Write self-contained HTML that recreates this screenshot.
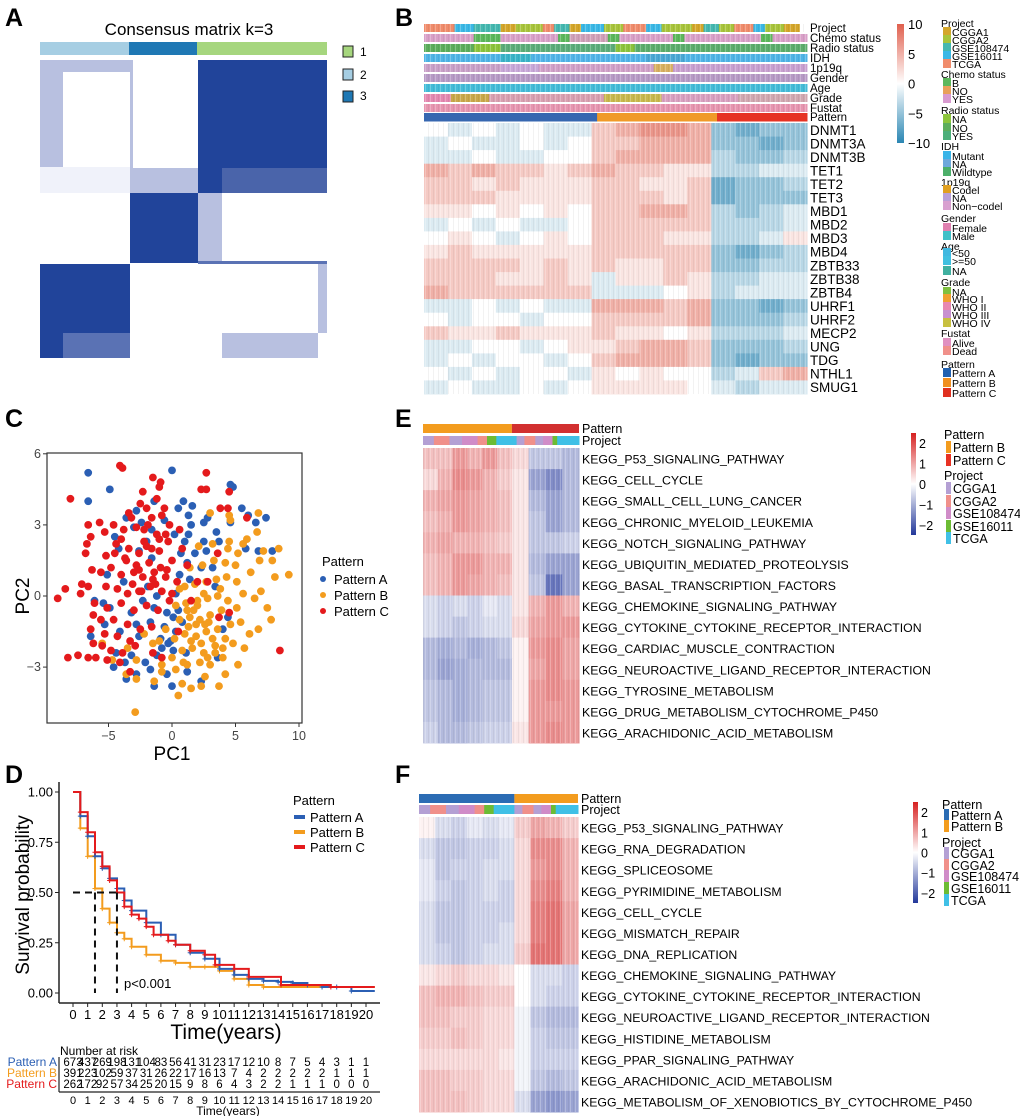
<!DOCTYPE html>
<html><head><meta charset="utf-8"><style>
html,body{margin:0;padding:0;background:#fff;}
svg{display:block;font-family:"Liberation Sans",sans-serif;}
</style></head><body>
<svg id="fig" width="1020" height="1116" viewBox="0 0 1020 1116" xmlns="http://www.w3.org/2000/svg">
<defs>
<pattern id="stripes" width="5" height="10" patternUnits="userSpaceOnUse"><rect x="0" y="0" width="1" height="10" fill="#fff" opacity="0.25"/><rect x="3" y="0" width="1" height="10" fill="#000" opacity="0.05"/></pattern>
<linearGradient id="gradB" x1="0" y1="0" x2="0" y2="1"><stop offset="0" stop-color="#e0604e"/><stop offset="0.5" stop-color="#ffffff"/><stop offset="1" stop-color="#2a86b3"/></linearGradient>
<linearGradient id="gradE" x1="0" y1="0" x2="0" y2="1"><stop offset="0" stop-color="#d62020"/><stop offset="0.5" stop-color="#ffffff"/><stop offset="1" stop-color="#23389a"/></linearGradient>
</defs>
<g font-weight="bold" font-size="25">
<text x="5" y="26">A</text>
<text x="395" y="26">B</text>
<text x="5" y="427">C</text>
<text x="395" y="427">E</text>
<text x="5" y="783">D</text>
<text x="395" y="783">F</text>
</g>
<!-- Panel A -->
<g id="pa">
<text x="189" y="35" font-size="17" text-anchor="middle">Consensus matrix k=3</text>
<rect x="40" y="42" width="89" height="13" fill="#a6cee3"/>
<rect x="129" y="42" width="68" height="13" fill="#1f78b4"/>
<rect x="197" y="42" width="130" height="13" fill="#a6d67e"/>
<rect x="343" y="46" width="10" height="11" fill="#a6d67e" stroke="#222"/>
<text x="360" y="56" font-size="12">1</text>
<rect x="343" y="69" width="10" height="11" fill="#a6cee3" stroke="#222"/>
<text x="360" y="79" font-size="12">2</text>
<rect x="343" y="91" width="10" height="11" fill="#1f78b4" stroke="#222"/>
<text x="360" y="100" font-size="12">3</text>
<g fill="#b8c0e0">
<rect x="40" y="60" width="23" height="107"/><rect x="63" y="60" width="67" height="12"/>
<rect x="130" y="168" width="68" height="25"/><rect x="198" y="193" width="24" height="68"/>
<rect x="222" y="333" width="96" height="25"/><rect x="318" y="264" width="9" height="69"/>
<rect x="130" y="60" width="3" height="133"/><rect x="40" y="167" width="90" height="26" fill="#f0f2fa"/>
</g>
<g fill="#21449a">
<rect x="198" y="60" width="129" height="108"/><rect x="198" y="168" width="24" height="25"/>
<rect x="222" y="168" width="105" height="25" fill="#4a64aa"/>
<rect x="130" y="193" width="68" height="70"/>
<rect x="40" y="264" width="90" height="69"/><rect x="40" y="333" width="23" height="25"/>
<rect x="63" y="333" width="67" height="25" fill="#5a72b4"/>
<rect x="198" y="261" width="129" height="3" fill="#5a72b4"/>
</g>
</g>
<g id="pb"></g>
<g id="pc"></g>
<g id="pd"></g>
<g id="pe"></g>
<g id="pf"></g>
</svg>
<script>
// ===== Panel B data =====
const geneNames = ["DNMT1","DNMT3A","DNMT3B","TET1","TET2","TET3","MBD1","MBD2","MBD3","MBD4","ZBTB33","ZBTB38","ZBTB4","UHRF1","UHRF2","MECP2","UNG","TDG","NTHL1","SMUG1"];
const geneValues = [
[0,-1,0,-1,0,-1,-1,2,3,4,4,3,-3,-4,-3,-3],
[-1,0,-1,-1,0,-1,0,2,2,3,3,3,-3,-3,-4,-3],
[-1,-1,0,-1,-1,0,0,2,3,3,3,3,-2,-3,-3,-2],
[3,2,3,2,2,1,2,3,2,2,1,1,-2,-2,-1,-1],
[2,2,1,2,1,1,1,2,2,1,1,2,-4,-3,-3,-2],
[2,2,2,1,1,1,1,2,2,2,1,2,-4,-3,-3,-3],
[1,1,0,1,0,1,0,2,2,3,3,2,-2,-3,-2,-1],
[-1,0,-1,0,-1,-1,0,2,2,2,2,2,-2,-2,-2,-1],
[0,1,0,-1,0,1,0,2,2,2,1,1,-2,-2,-1,1],
[1,2,1,1,1,1,1,2,2,2,2,2,-3,-4,-3,-2],
[2,2,2,2,1,2,1,2,1,1,2,2,-3,-3,-2,-2],
[2,2,2,1,1,2,1,-1,1,1,2,1,-2,-2,-1,-1],
[3,2,2,2,2,2,2,-1,-1,-1,0,1,-2,-1,-1,-1],
[-1,-1,0,-1,0,-1,-1,3,3,3,2,3,-3,-3,-4,-3],
[0,-1,0,0,-1,0,0,2,2,2,2,3,-3,-3,-3,-2],
[2,1,1,2,1,1,1,2,1,1,0,1,-2,-2,-2,-1],
[-1,-1,0,0,-1,0,1,1,2,3,3,2,-3,-3,-3,-2],
[-1,0,-1,0,0,-1,0,2,3,3,3,2,-3,-4,-3,-3],
[0,-1,0,-1,0,0,-1,1,0,1,0,0,-2,-1,2,3],
[-1,0,-1,-1,0,-1,0,1,1,1,1,0,-1,-2,-1,-1]];
const geneColTicks = ["10","5","0","\u22125","\u221210"];
const geneColTickVals = [10,5,0,-5,-10];
// ===== Panel C data =====
const redX=[-4.1,-3.9,-1.5,-0.9,-1,2.7,2.3,2.7,4.5,-8,-2.3,-2.5,-3.4,-2,-1.2,-0.6,-5.7,-6.6,-4.6,-3.2,-2.8,-1.6,-0.8,-0.2,0.6,3.8,4.4,5.9,-6.4,-6.7,-5.3,-4,-3.4,-2.2,-1.2,-0.3,0.8,-6.8,-5.2,-4.5,-3.6,-2.6,-1.8,-1,0,1.2,3.6,-6.3,-5.6,-4.8,-4,-3,-2.3,-1.4,-0.5,0.4,2,2.8,-7.1,-6.6,-5.2,-4.3,-3.5,-2.6,-1.7,-0.8,0,-8.4,-9,-7.2,-6.1,-5.1,-4,-3,-2,-1.1,1.5,-6.2,-5.6,-4.6,-3.5,-2.5,-1.6,-6.4,-5.3,-4.3,-3.3,-6.2,-5.5,-4.8,-3.9,-2.9,-1.5,-6,-5.1,-4.1,-8.2,-7.4,-6.6,-3.3,-0.8,8.5,4.5,3.7,0.5,-2.2,-1.6,-0.9,-1.3,-0.2,-2.8,-3.8,-4.4,-1.9,-0.5,-2.6,-1.5,-0.4,-3.1,-2,-1,-3.7,-2.4];
const redY=[5.5,5.4,5,4.8,4.6,5.2,4.5,4.5,4.4,4.1,4.4,3.9,3.5,3.7,4.1,3.7,3.1,3,3,3.3,2.9,3.3,3.4,3,2.8,3.7,3.7,3.3,2.5,2.2,2.7,2.4,2,2.3,2.6,2.3,2,1.8,1.7,1.8,1.5,1.8,1.4,1.9,1.5,1.3,1.8,1.1,1,1.2,0.9,1,0.8,1,0.8,0.6,0.6,0.6,0.5,0.4,0.4,0.3,0.1,0.2,0.4,0.2,0.1,0.3,-0.1,0.1,-0.3,-0.5,-0.3,-0.6,-0.4,-0.6,-0.2,-0.8,-1,-1,-1.2,-1.4,-1.3,-1.4,-1.6,-1.7,-1.9,-2,-2.1,-2.3,-2.4,-2.1,-2.4,-2.6,-2.7,-2.8,-2.6,-2.5,-2.6,-3.2,-2.6,-2.3,-0.7,-0.9,-1.5,2.8,2,1.2,0.5,-0.2,1.3,2.8,2.2,3,2.6,1.1,0.7,1.1,0.5,2.1,2.4,1.6,0.2];
const orangeX=[-2.9,9.2,8.4,7.9,7.8,8.1,7.2,6.9,6.8,6.7,5.9,5.6,4.6,4.5,4.4,5.2,6.2,7,6.5,7.5,6.8,6.1,5.4,5.7,5.2,4.2,3.7,2.3,1.5,0.8,-1.4,-2.8,-3.6,0.3,1.2,2.2,3,4,4.8,0,0.8,1.6,2.5,3.4,4.2,0.2,1,1.9,2.7,3.6,4.6,-0.5,0.6,1.4,2.2,3,3.9,5.1,0.3,1.1,2,2.8,3.6,4.4,5.6,1,1.8,2.7,3.5,4.3,5.1,1.4,2.4,3.3,4.2,5,-3.5,-2.8,-1.5,-2.2,-0.8,2.6,0.5,-0.8,3,4.5,1.9,2.3,1.3,2.8,3.2,1.7,2.5,3.8,0.6,-1,-5.5,-4.7,3.2,2.1,1.5,2.9,3.4,2,1.2,2.6,4,0.9];
const orangeY=[-4.9,0.9,2,1.5,-1,0.8,1.9,1.5,3.5,2.7,2.4,2.2,3.2,2.3,2,1.8,1,0.2,-0.1,-0.5,-1.4,-1.6,-1.1,-2.2,-2.9,-3.3,-3.8,-3.8,-3.9,-3.7,-3.6,-3.5,-3.3,-3.1,-2.9,-2.8,-2.9,-2.6,-2,-2.6,-2.3,-2.2,-2.4,-2.1,-1.8,-1.8,-1.6,-1.7,-1.5,-1.4,-1.2,-1.4,-1,-0.9,-1,-0.8,-0.6,-0.5,-0.4,-0.3,-0.2,-0.1,0,-0.2,0.1,0.4,0.5,0.6,0.7,0.8,0.6,1.2,1.3,1.5,1.4,1.3,-2.2,-2.7,-2,-1.6,-2.9,-3.4,-4.2,-3.2,3.5,3.4,-1.2,-2,-1.3,-2.6,-1.8,-0.6,0.1,0.3,0.3,-1.9,-2,-2.7,2.2,2.1,-1.9,-1.1,-2.4,-0.4,-0.6,-1.2,-2.2,-2.8];
const blueX=[-6.6,-6.6,-4.9,0,4.6,4.8,-2.8,-1.4,0.9,1.6,0.5,1.3,2.8,5.5,6,7.4,6.6,4.6,-3.6,-2.4,-0.6,1.5,2.5,-3,-1.6,0.2,1.3,3.5,-4.5,-2,1,2.5,3.7,5.8,6.8,7.9,-4.2,-2.6,0.7,1.8,2.7,-1.6,1.2,2.3,3.2,-5.1,-3.8,-1.9,0.6,1.4,0.3,-6.1,-4.9,-3.2,-1.4,-0.4,0.1,-5.3,-4.1,-2.6,-1.7,-0.6,-0.9,-6.4,-4.4,-3.2,-2.1,-1.2,0.1,-4.6,-3.7,-2.8,-1.7,-0.4,1.2,-3.6,-1.4,0,2.3,3.6,4,4.4,3.4,-0.3,0.3,-2.3,-5.4,-2.8,-1.2,0.8,-0.1,0.5,-0.8,1.1];
const blueY=[5.2,4,4.5,5.3,4.7,4.6,3.6,4,4,3.8,3.7,3.4,3.3,3.7,3.4,3.3,3.1,3.1,3.3,3.1,3.2,3,3.1,2.9,2.8,2.6,2.6,2.7,2.5,2.3,2.3,2.3,2.3,2,1.9,1.9,2,1.9,1.8,1.8,1.9,1.6,1.4,1.2,1.2,0.9,0.6,0.4,0.9,0.7,0.1,-0.2,-0.5,-0.7,-0.5,-0.7,-0.9,-1.2,-1.5,-1.7,-1.1,-1.3,-1.8,-1.7,-2.4,-2.5,-2.8,-2.5,-2.3,-3,-2.8,-3.3,-3.1,-3.3,-3.2,-3.5,-3.8,-3.8,-3.6,-2.6,-1.4,-0.9,0.4,-2,-1.5,-0.2,-0.3,-1.2,0,-1.1,-1.9,-0.6,-2.2,-2.4];
const pcXTicks=[-5,0,5,10];
const pcYTicks=[6,3,0,-3];
// ===== Panel D data =====
const kmA_t=[0,0.5,1,1.5,2,2.5,3,3.5,4,5,6,7,8,9,10,11,12,13,14,15,16,17,18,19,20.6];
const kmA_s=[1,0.88,0.78,0.68,0.62,0.57,0.52,0.46,0.41,0.35,0.29,0.24,0.2,0.17,0.12,0.09,0.07,0.06,0.055,0.05,0.04,0.03,0.03,0.01,0.01];
const kmB_t=[0,0.5,1,1.5,2,2.5,3,3.5,4,5,6,7,8,9,10,11,12,13,20.6];
const kmB_s=[1,0.82,0.68,0.52,0.42,0.35,0.3,0.27,0.23,0.19,0.16,0.15,0.13,0.13,0.11,0.07,0.04,0.03,0.03];
const kmC_t=[0,0.5,1,1.5,2,2.5,3,3.5,4,4.5,5,5.5,6.5,7,8,9,9.7,11,12,14.2,17.6,20.6];
const kmC_s=[1,0.9,0.8,0.7,0.63,0.56,0.5,0.43,0.39,0.37,0.33,0.29,0.26,0.24,0.21,0.19,0.14,0.12,0.08,0.04,0.03,0.03];
const riskA=[673,437,269,198,131,104,83,56,41,31,23,17,12,10,8,7,5,4,3,1,1];
const riskB=[391,223,102,59,37,31,26,22,17,16,13,7,4,2,2,2,2,2,1,1,1];
const riskC=[262,172,92,57,34,25,20,15,9,8,6,4,3,2,2,1,1,1,0,0,0];
const survTicks=[0,0.25,0.5,0.75,1];
const survTickLabels=["0.00","0.25","0.50","0.75","1.00"];
const medianTimes=[1.5,3];
// ===== Panel E data =====
const keggE=["KEGG_P53_SIGNALING_PATHWAY","KEGG_CELL_CYCLE","KEGG_SMALL_CELL_LUNG_CANCER","KEGG_CHRONIC_MYELOID_LEUKEMIA","KEGG_NOTCH_SIGNALING_PATHWAY","KEGG_UBIQUITIN_MEDIATED_PROTEOLYSIS","KEGG_BASAL_TRANSCRIPTION_FACTORS","KEGG_CHEMOKINE_SIGNALING_PATHWAY","KEGG_CYTOKINE_CYTOKINE_RECEPTOR_INTERACTION","KEGG_CARDIAC_MUSCLE_CONTRACTION","KEGG_NEUROACTIVE_LIGAND_RECEPTOR_INTERACTION","KEGG_TYROSINE_METABOLISM","KEGG_DRUG_METABOLISM_CYTOCHROME_P450","KEGG_ARACHIDONIC_ACID_METABOLISM"];
const keggEValues=[
[0.5,0.5,0.8,0.6,0.8,0.5,0.3,-0.5,-0.5,-0.6],
[0.3,0.6,0.9,0.8,0.6,0.4,0.2,-0.8,-1,-0.6],
[0.6,0.7,0.8,0.7,0.6,0.5,0.2,-0.6,-0.8,-0.6],
[0.5,0.6,0.8,0.7,0.6,0.5,0.2,-0.5,-0.8,-0.6],
[0.6,0.7,0.6,0.6,0.5,0.4,0.2,-0.5,-0.5,-0.4],
[0.5,0.6,0.8,0.8,0.6,0.6,0.2,-0.6,-0.8,-0.8],
[0.5,0.6,0.8,0.7,0.6,0.5,0.2,-0.5,-1.2,-0.8],
[-0.3,-0.4,-0.3,-0.4,-0.2,-0.3,0.2,0.6,0.8,0.6],
[-0.3,-0.4,-0.5,-0.4,-0.3,-0.3,0.3,0.7,0.8,0.8],
[-0.6,-0.7,-0.6,-0.7,-0.6,-0.5,0.1,0.8,0.9,0.7],
[-0.6,-0.8,-0.7,-0.6,-0.6,-0.6,0.1,0.7,0.9,0.7],
[-0.5,-0.6,-0.7,-0.6,-0.5,-0.5,0.1,0.8,0.9,0.8],
[-0.5,-0.6,-0.7,-0.6,-0.5,-0.5,0.1,0.8,0.8,0.8],
[-0.4,-0.6,-0.6,-0.5,-0.4,-0.4,0.2,0.8,0.9,0.8]];
// ===== Panel F data =====
const keggF=["KEGG_P53_SIGNALING_PATHWAY","KEGG_RNA_DEGRADATION","KEGG_SPLICEOSOME","KEGG_PYRIMIDINE_METABOLISM","KEGG_CELL_CYCLE","KEGG_MISMATCH_REPAIR","KEGG_DNA_REPLICATION","KEGG_CHEMOKINE_SIGNALING_PATHWAY","KEGG_CYTOKINE_CYTOKINE_RECEPTOR_INTERACTION","KEGG_NEUROACTIVE_LIGAND_RECEPTOR_INTERACTION","KEGG_HISTIDINE_METABOLISM","KEGG_PPAR_SIGNALING_PATHWAY","KEGG_ARACHIDONIC_ACID_METABOLISM","KEGG_METABOLISM_OF_XENOBIOTICS_BY_CYTOCHROME_P450"];
const keggFValues=[
[0.1,-0.3,-0.4,-0.2,-0.3,-0.2,0.4,0.7,0.6,0.4],
[-0.3,-0.5,-0.5,-0.4,-0.4,-0.3,0.3,0.9,0.9,0.6],
[-0.2,-0.5,-0.4,-0.4,-0.3,-0.3,0.3,0.8,0.9,0.6],
[-0.2,-0.4,-0.5,-0.4,-0.3,-0.4,0.3,0.9,1,0.6],
[-0.3,-0.5,-0.5,-0.4,-0.4,-0.4,0.3,1,1.1,0.7],
[-0.3,-0.5,-0.5,-0.4,-0.4,-0.3,0.3,1,1.1,0.7],
[-0.3,-0.4,-0.5,-0.4,-0.3,-0.3,0.4,1.1,1.1,0.7],
[0.2,0.3,0.4,0.3,0.3,0.2,0,-0.3,-0.3,-0.4],
[0.5,0.6,0.6,0.5,0.4,0.4,0,-0.3,-0.4,-0.4],
[0.5,0.5,0.4,0.4,0.3,0.3,-0.1,-0.5,-0.6,-0.6],
[0.4,0.4,0.5,0.4,0.3,0.3,-0.1,-0.4,-0.5,-0.5],
[0.3,0.3,0.3,0.3,0.3,0.2,-0.1,-0.4,-0.4,-0.4],
[0.5,0.5,0.4,0.4,0.3,0.3,-0.1,-0.5,-0.6,-0.5],
[0.5,0.5,0.5,0.4,0.3,0.3,-0.3,-0.8,-0.9,-0.8]];
const keggTicks=[2,1,0,-1,-2];
const keggTickLabels=["2","1","0","\u22121","\u22122"];

const NS="http://www.w3.org/2000/svg";
function mk(tag,attrs,parent){const e=document.createElementNS(NS,tag);for(const k in attrs)e.setAttribute(k,attrs[k]);parent.appendChild(e);return e;}
function tx(str,attrs,parent){const e=mk("text",attrs,parent);e.textContent=str;return e;}
function lerp(a,b,t){return Math.round(a+(b-a)*t);}
function mix(c1,c2,t){return "rgb("+lerp(c1[0],c2[0],t)+","+lerp(c1[1],c2[1],t)+","+lerp(c1[2],c2[2],t)+")";}
function divColor(v,max,red,blue){const t=Math.max(-1,Math.min(1,v/max));return t>=0?mix([255,255,255],red,t):mix([255,255,255],blue,-t);}

// ===== Panel B =====
(function(){
const g=document.getElementById("pb");
const x0=424,x1=807;
const annRows=[
 ["Project",[[0.08,"#f08c6c"],[0.05,"#3ab8e6"],[0.07,"#45b8b0"],[0.04,"#d4a62a"],[0.07,"#a8c43b"],[0.03,"#f08c6c"],[0.04,"#45b8b0"],[0.03,"#d4a62a"],[0.06,"#3ab8e6"],[0.05,"#a8c43b"],[0.06,"#f08c6c"],[0.04,"#3ab8e6"],[0.08,"#a8c43b"],[0.03,"#d4a62a"],[0.04,"#45b8b0"],[0.04,"#a8c43b"],[0.05,"#f08c6c"],[0.03,"#3ab8e6"],[0.05,"#a8c43b"],[0.04,"#d4a62a"]]],
 ["Chemo status",[[0.13,"#d9a0c8"],[0.07,"#5cb85c"],[0.15,"#d9a0c8"],[0.03,"#5cb85c"],[0.1,"#d0a0b8"],[0.03,"#5cb85c"],[0.14,"#d9a0c8"],[0.03,"#5cb85c"],[0.2,"#d9a0c8"],[0.03,"#5cb85c"],[0.09,"#d9a0c8"]]],
 ["Radio status",[[0.13,"#5cad5c"],[0.07,"#8cc43c"],[0.3,"#5cad7a"],[0.05,"#8cc43c"],[0.45,"#5cad6c"]]],
 ["IDH",[[0.2,"#4fb4e6"],[0.08,"#3ab4c8"],[0.3,"#50b4e8"],[0.1,"#4aa8d4"],[0.32,"#4fb4e6"]]],
 ["1p19q",[[0.2,"#c9a0c8"],[0.1,"#c8a8d8"],[0.3,"#d0a0c8"],[0.05,"#d8b060"],[0.35,"#c8a0d0"]]],
 ["Gender",[[1,"#b79ac6"]]],
 ["Age",[[1,"#44bcd8"]]],
 ["Grade",[[0.07,"#e488b0"],[0.1,"#c9a84a"],[0.3,"#d8a0b0"],[0.15,"#c8b84c"],[0.2,"#d8a0c0"],[0.18,"#d0a8b0"]]],
 ["Fustat",[[1,"#e796b0"]]],
 ["Pattern",[[0.452,"#3767b0"],[0.313,"#f09a28"],[0.235,"#e63324"]]]];
const annY=[24,34,44,54,64,74,84,94,104,113];
annRows.forEach((r,i)=>{
 let x=x0;const w=x1-x0;
 const grp=mk("g",{},g);
 
 
 r[1].forEach(s=>{mk("rect",{x:x.toFixed(1),y:annY[i],width:(s[0]*w+0.5).toFixed(1),height:(i==9?8.5:8),fill:s[1]},grp);x+=s[0]*w;});
 if(i<9)mk("rect",{x:x0,y:annY[i],width:w,height:8,fill:"url(#stripes)"},grp);
 const t=tx(r[0],{x:810,y:annY[i]+8,"font-size":11.5},g);
 
 
});
const hy0=123,rh=(394-123)/geneNames.length;
const ncol=geneValues[0].length;const cw=(x1-x0)/ncol;
const hm=mk("g",{},g);


geneValues.forEach((row,i)=>{
 row.forEach((v,j)=>{const c=mk("rect",{x:(x0+j*cw).toFixed(1),y:(hy0+i*rh).toFixed(1),width:(cw+0.6).toFixed(1),height:(rh+0.5).toFixed(1),fill:divColor(v,6,[224,96,78],[42,134,179])},hm);
  
  });
 const t=tx(geneNames[i],{x:810,y:(hy0+i*rh+rh/2+5).toFixed(1),"font-size":13.5},g);
 
 
});
mk("rect",{x:x0,y:hy0,width:x1-x0,height:394-hy0,fill:"url(#stripes)"},hm);
const cb=mk("rect",{x:897,y:24,width:7,height:119,fill:"url(#gradB)"},g);


geneColTickVals.forEach((v,i)=>{const y=24+(10-v)/20*119;const t=tx(geneColTicks[i],{x:908,y:(y+5).toFixed(1),"font-size":13},g);
 
 });
const leg=[["t","Project",23],["CGGA1","#d4a62a",32],["CGGA2","#a8c43b",40],["GSE108474","#45b8b0",48],["GSE16011","#3ab8e6",56],["TCGA","#f08c6c",64],
["t","Chemo status",74],["B","#5cb85c",83],["NO","#e8a05a",91],["YES","#d89ad0",99],
["t","Radio status",110],["NA","#8cc43c",119],["NO","#5cad5c",128],["YES","#4caf7a",136],
["t","IDH",146],["Mutant","#3ab4e8",156],["NA","#6ea8dc",164],["Wildtype","#4caf6a",172],
["t","1p19q",182],["Codel","#e0a020",190],["NA","#b8a0d8",198],["Non\u2212codel","#d8a0d0",206],
["t","Gender",218],["Female","#e080b0",228],["Male","#40c0c8",236],
["t","Age",246],["<50","#40b8e0",253],[">=50","#40c0e0",261],["NA","#40b0a0",271],
["t","Grade",282],["NA","#80c040",292],["WHO I","#f0a030",299],["WHO II","#e888b0",307],["WHO III","#c890d0",315],["WHO IV","#c8c040",323],
["t","Fustat",333],["Alive","#e090c0",343],["Dead","#f0908a",351],
["t","Pattern",364],["Pattern A","#2060b0",373],["Pattern B","#f09020",383],["Pattern C","#e03020",393]];
const lg=mk("g",{},g);


leg.forEach(l=>{
 if(l[0]=="t"){const t=tx(l[1],{x:941,y:l[2]+4,"font-size":10.5},lg);}
 else{const s=mk("rect",{x:943,y:l[2]-5,width:8,height:9,fill:l[1]},lg);
  const t=tx(l[0],{x:952,y:l[2]+4,"font-size":10.5},lg);}
});
})();

// ===== Panel C =====
(function(){
const g=document.getElementById("pc");
const X=v=>172+v*12.7, Y=v=>596-v*23.7;
const box=mk("rect",{x:47,y:453,width:255,height:270,fill:"none",stroke:"#333","stroke-width":1.2},g);


pcXTicks.forEach(v=>{mk("line",{x1:X(v),x2:X(v),y1:723,y2:727,stroke:"#333"},g);
 const t=tx(v<0?"\u2212"+(-v):String(v),{x:X(v),y:740,"font-size":12.5,"text-anchor":"middle",fill:"#444"},g);
 
 });
pcYTicks.forEach(v=>{mk("line",{x1:43,x2:47,y1:Y(v),y2:Y(v),stroke:"#333"},g);
 const t=tx(v<0?"\u2212"+(-v):String(v),{x:41,y:Y(v)+4,"font-size":12.5,"text-anchor":"end",fill:"#444"},g);
 
 });
const xt=tx("PC1",{x:172,y:760,"font-size":19,"text-anchor":"middle"},g);


const yt=tx("PC2",{x:0,y:0,"font-size":19,"text-anchor":"middle",transform:"translate(29,596) rotate(-90)"},g);


const series=[[blueX,blueY,"#2b5fb4","pattern-a"],[orangeX,orangeY,"#f39c1e","pattern-b"],[redX,redY,"#e41a1c","pattern-c"]];
series.forEach(s=>{const sg=mk("g",{},g);
 
 
 s[0].forEach((x,i)=>{const c=mk("circle",{cx:X(x).toFixed(1),cy:Y(s[1][i]).toFixed(1),r:3.9,fill:s[2]},sg);
  
  });});
const lt=tx("Pattern",{x:322,y:566,"font-size":13},g);


[["Pattern A","#2b5fb4",579],["Pattern B","#f39c1e",595],["Pattern C","#e41a1c",611]].forEach(e=>{
 const c=mk("circle",{cx:323,cy:e[2],r:3,fill:e[1]},g);
 
 
 const t=tx(e[0],{x:334,y:e[2]+5,"font-size":13},g);
 
 });
})();

// ===== Panel D =====
(function(){
const g=document.getElementById("pd");
const X=t=>73+t*14.65, Y=s=>993-s*201;
mk("line",{x1:59,x2:59,y1:782,y2:1003,stroke:"#222","stroke-width":1.5},g);
mk("line",{x1:59,x2:380,y1:1003,y2:1003,stroke:"#222","stroke-width":1.5},g);
survTicks.forEach((v,i)=>{mk("line",{x1:55,x2:59,y1:Y(v),y2:Y(v),stroke:"#222"},g);
 const t=tx(survTickLabels[i],{x:53,y:Y(v)+4.5,"font-size":13,"text-anchor":"end"},g);
 
 });
for(let k=0;k<=20;k++){mk("line",{x1:X(k),x2:X(k),y1:1003,y2:1007,stroke:"#222"},g);
 const t=tx(String(k),{x:X(k),y:1019,"font-size":13,"text-anchor":"middle"},g);
 
 }
const xt=tx("Time(years)",{x:226,y:1039,"font-size":21,"text-anchor":"middle"},g);


const yt=tx("Survival probability",{x:0,y:0,"font-size":19,"text-anchor":"middle",transform:"translate(29,895) rotate(-90)"},g);


function step(ts,ss){let d="M"+X(ts[0])+","+Y(ss[0]);for(let i=1;i<ts.length;i++){d+=" H"+X(ts[i]).toFixed(1)+" V"+Y(ss[i]).toFixed(1);}return d;}
[[kmB_t,kmB_s,"#f39c1e","curve-pattern-b"],[kmA_t,kmA_s,"#2b5fb4","curve-pattern-a"],[kmC_t,kmC_s,"#e41a1c","curve-pattern-c"]].forEach(c=>{
 const p=mk("path",{d:step(c[0],c[1]),fill:"none",stroke:c[2],"stroke-width":2},g);
 
 
 c[0].forEach((t,i)=>{if(i>0&&i<c[0].length-1){const m=mk("path",{d:"M"+(X(t)-2.5)+","+Y(c[1][i])+" h5 M"+X(t)+","+(Y(c[1][i])-2.5)+" v5",stroke:c[2],"stroke-width":1},g);
  
  }});});
const med=mk("path",{d:"M"+X(0)+","+Y(0.5)+" H"+X(medianTimes[1])+" M"+X(medianTimes[0])+","+Y(0.5)+" V"+Y(0)+" M"+X(medianTimes[1])+","+Y(0.5)+" V"+Y(0),fill:"none",stroke:"#111","stroke-width":2,"stroke-dasharray":"7,5"},g);


const pv=tx("p<0.001",{x:124,y:988,"font-size":13},g);


const lt=tx("Pattern",{x:293,y:805,"font-size":13},g);


[["Pattern A","#2b5fb4",817],["Pattern B","#f39c1e",832],["Pattern C","#e41a1c",847]].forEach(e=>{
 const r=mk("rect",{x:294,y:e[2]-2,width:11,height:4,fill:e[1]},g);
 
 
 const t=tx(e[0],{x:310,y:e[2]+5,"font-size":13},g);
 
 });
const nr=tx("Number at risk",{x:60,y:1055,"font-size":12},g);


[[riskA,"Pattern A","#2b5fb4",1066],[riskB,"Pattern B","#f39c1e",1077],[riskC,"Pattern C","#e41a1c",1088]].forEach(r=>{
 const l=tx(r[1],{x:57,y:r[3],"font-size":12,"text-anchor":"end",fill:r[2]},g);
 
 
 r[0].forEach((v,k)=>{const t=tx(String(v),{x:X(k),y:r[3],"font-size":11.5,"text-anchor":"middle"},g);
  
  });});
mk("line",{x1:59,x2:380,y1:1092,y2:1092,stroke:"#222","stroke-width":1.2},g);
mk("line",{x1:59,x2:59,y1:1057,y2:1092,stroke:"#222","stroke-width":1.2},g);
for(let k=0;k<=20;k++){const t=tx(String(k),{x:X(k),y:1104,"font-size":11,"text-anchor":"middle"},g);
 
 }
const rt=tx("Time(years)",{x:228,y:1115,"font-size":12,"text-anchor":"middle"},g);


})();

// ===== Panels E / F =====
function keggPanel(gid,names,vals,x0,x1,split,patY,projY,h0,h1,patCols,cbX,cbY0,cbY1,legX,legItems){
 const g=document.getElementById(gid);
 const w=x1-x0;
 mk("rect",{x:x0,y:patY,width:w*split,height:9,fill:patCols[0]},g);
 mk("rect",{x:x0+w*split,y:patY,width:w*(1-split),height:9,fill:patCols[1]},g);
 const projSeg=[[0.07,"#b4a0d4"],[0.1,"#f0908a"],[0.08,"#b4a0d4"],[0.1,"#d08cc8"],[0.06,"#f0908a"],[0.06,"#6cbc34"],[0.13,"#40c0e6"],[0.05,"#b4a0d4"],[0.07,"#f0908a"],[0.05,"#b4a0d4"],[0.06,"#d08cc8"],[0.03,"#6cbc34"],[0.14,"#40c0e6"]];
 let x=x0;projSeg.forEach(s=>{const r=mk("rect",{x:x.toFixed(1),y:projY,width:(s[0]*w+0.5).toFixed(1),height:9,fill:s[1]},g);
  
  x+=s[0]*w;});
 const pl=tx("Pattern",{x:x1+3,y:patY+9,"font-size":12.5},g);
 
 
 const pj=tx("Project",{x:x1+3,y:projY+9,"font-size":12.5},g);
 
 
 const rh=(h1-h0)/names.length;const nc=vals[0].length;
 const left=w*split, lw=left/6, rw=(w-left)/(nc-6);
 vals.forEach((row,i)=>{
  row.forEach((v,j)=>{const cx=j<6?x0+j*lw:x0+left+(j-6)*rw;const cw=j<6?lw:rw;
   const c=mk("rect",{x:cx.toFixed(1),y:(h0+i*rh).toFixed(1),width:(cw+0.6).toFixed(1),height:(rh+0.5).toFixed(1),fill:divColor(v,1.7,[214,40,40],[40,60,160])},g);
   
   });
  const t=tx(names[i],{x:x1+3,y:(h0+i*rh+rh/2+5).toFixed(1),"font-size":12.3},g);
  
  });
 mk("rect",{x:x0,y:h0,width:w,height:h1-h0,fill:"url(#stripes)"},g);
 const cb=mk("rect",{x:cbX,y:cbY0,width:5,height:cbY1-cbY0,fill:"url(#gradE)"},g);
 
 
 keggTicks.forEach((v,i)=>{const y=cbY0+(2.5-v)/5*(cbY1-cbY0);const t=tx(keggTickLabels[i],{x:cbX+8,y:(y+5).toFixed(1),"font-size":12.5},g);
  
  });
 legItems.forEach(l=>{
  if(l[0]=="t"){const t=tx(l[1],{x:legX-2,y:l[2]+5,"font-size":12.5},g);}
  else{const s=mk("rect",{x:legX,y:l[2]-6,width:5,height:12,fill:l[1]},g);
   const t=tx(l[0],{x:legX+7,y:l[2]+5,"font-size":12.5},g);}});
}
keggPanel("pe",keggE,keggEValues,423,579,0.57,424,436,448,743,["#f39c1e","#d23030"],911,433,535,946,
 [["t","Pattern",434],["Pattern B","#f39c1e",447],["Pattern C","#e83224",460],["t","Project",475],["CGGA1","#b4a0d4",488],["CGGA2","#f0908a",501],["GSE108474","#d08cc8",513],["GSE16011","#6cbc34",526],["TCGA","#40c0e6",538]]);
keggPanel("pf",keggF,keggFValues,419,578,0.6,794,805,817,1112,["#2b6cb4","#f39c1e"],913,802,903,944,
 [["t","Pattern",804],["Pattern A","#2b6cb4",815],["Pattern B","#f39c1e",826],["t","Project",842],["CGGA1","#b4a0d4",853],["CGGA2","#f0908a",865],["GSE108474","#d08cc8",876],["GSE16011","#6cbc34",888],["TCGA","#40c0e6",900]]);
</script>
</body></html>
